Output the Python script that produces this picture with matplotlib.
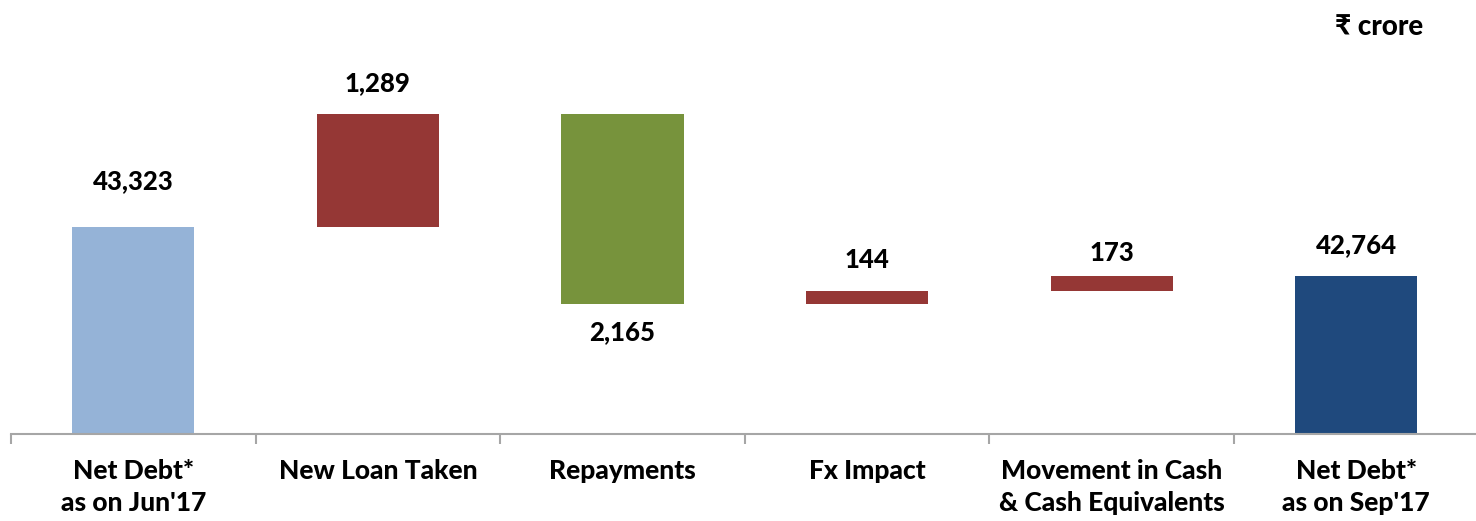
import matplotlib
matplotlib.use("Agg")
import matplotlib.pyplot as plt

categories = ["Net Debt*\nas on Jun'17", "New Loan Taken", "Repayments", "Fx Impact",
              "Movement in Cash\n& Cash Equivalents", "Net Debt*\nas on Sep'17"]
opening = 43323
changes = [1289, -2165, 144, 173]
closing = 42764
labels = ["43,323", "1,289", "2,165", "144", "173", "42,764"]

plt.rcParams['font.family'] = ['Lato', 'DejaVu Sans']

W, H = 1476, 521
fig = plt.figure(figsize=(W / 100, H / 100), dpi=100)
ymin = 40962
px_per_unit = 0.08767
ymax = ymin + 434 / px_per_unit
ax = fig.add_axes([11 / W, (H - 434) / H, (1478.6 - 11) / W, 434 / H])
ax.set_xlim(0, 6)
ax.set_ylim(ymin, ymax)

c_light = "#95B3D7"
c_red = "#953735"
c_green = "#77933C"
c_dark = "#1F497D"

xs = [i + 0.5 for i in range(6)]
bw = 0.5
ax.bar(xs[0], opening - ymin, bottom=ymin, width=bw, color=c_light)
level = opening
tops = [opening]
bottoms = [ymin]
for i, ch in enumerate(changes):
    lo = min(level, level + ch)
    ax.bar(xs[i + 1], abs(ch), bottom=lo, width=bw, color=c_red if ch > 0 else c_green)
    tops.append(lo + abs(ch))
    bottoms.append(lo)
    level += ch
ax.bar(xs[5], closing - ymin, bottom=ymin, width=bw, color=c_dark)
tops.append(closing)
bottoms.append(ymin)

W8 = 900
offsets_px = [46, 31, -28, 31, 23, 31]
for i in range(6):
    if offsets_px[i] > 0:
        y = tops[i] + offsets_px[i] / px_per_unit
    else:
        y = bottoms[i] + offsets_px[i] / px_per_unit
    ax.text(xs[i], y, labels[i], ha='center', va='center', fontsize=18.5,
            fontweight=W8, color='black')

for s in ['top', 'right', 'left']:
    ax.spines[s].set_visible(False)
ax.spines['bottom'].set_color('#A6A6A6')
ax.spines['bottom'].set_linewidth(1.5)
ax.set_yticks([])
ax.set_xticks(range(7))
ax.set_xticklabels([])
ax.tick_params(axis='x', length=7, width=1.5, color='#A6A6A6', direction='out')

for i, cat in enumerate(categories):
    ax.text(xs[i], ymin - 25 / px_per_unit, cat, ha='center', va='top', fontsize=19,
            fontweight=W8, linespacing=1.42, clip_on=False)

fig.text(1379 / W, 1 - 27 / H, "₹ crore", ha='center', va='center', fontsize=20,
         fontweight=W8)

fig.savefig("out.png", dpi=100)
